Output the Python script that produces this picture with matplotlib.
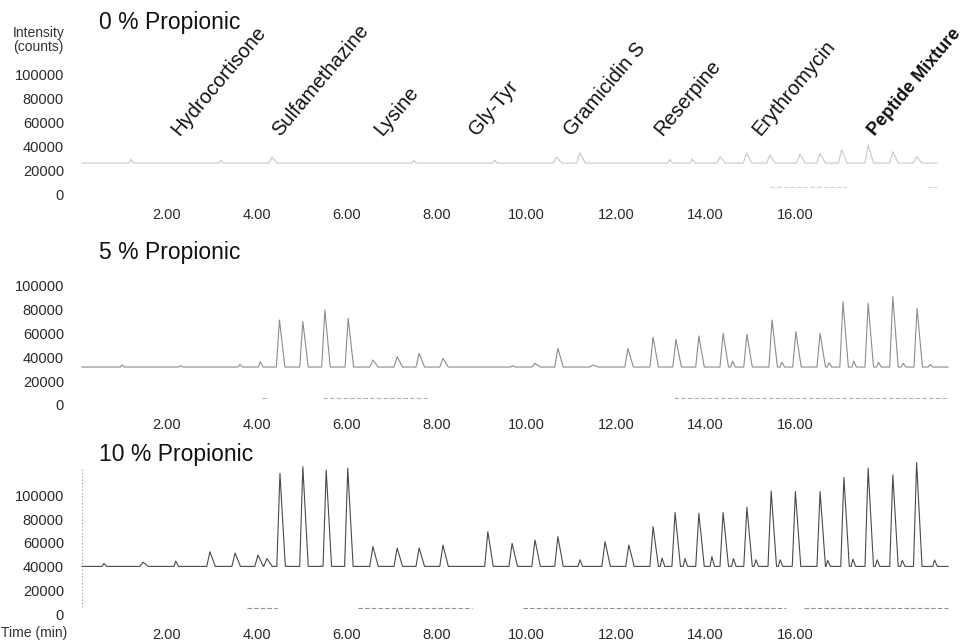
import matplotlib
matplotlib.use("Agg")
import matplotlib.pyplot as plt

plt.rcParams['font.family'] = ['Liberation Sans', 'DejaVu Sans']

# ---- data (time in min, intensity in counts) ----
titles = ["0 % Propionic", "5 % Propionic", "10 % Propionic"]
compounds = ["Hydrocortisone", "Sulfamethazine", "Lysine", "Gly-Tyr",
             "Gramicidin S", "Reserpine", "Erythromycin", "Peptide Mixture"]
compound_t = [2.27, 4.52, 6.8, 8.9, 11.02, 13.03, 15.21, 17.77]

xtick_vals = [2, 4, 6, 8, 10, 12, 14, 16]
xtick_labels = ["2.00", "4.00", "6.00", "8.00", "10.00", "12.00", "14.00", "16.00"]
ytick_vals = [0, 20000, 40000, 60000, 80000, 100000]
ytick_labels = ["0", "20000", "40000", "60000", "80000", "100000"]

# 0 % propionic
base_0 = 26000
peak_t_0 = [4.34, 10.68, 11.2, 14.32, 14.91, 15.43, 16.1, 16.55, 17.03, 17.62, 18.17, 18.7]
peak_h_0 = [31000, 31000, 34700, 31300, 34200, 32800, 33600, 34200, 37000, 41200, 35600, 31300]
bump_t_0 = [1.2, 3.2, 7.5, 9.3, 13.2, 13.7]
bump_h_0 = [29000, 28500, 28000, 28500, 29000, 29500]
span_0 = (0.11, 19.15)
dash_0 = [(15.43, 17.15), (18.93, 19.15)]

# 5 % propionic
base_5 = 31900
peak_t_5 = [4.51, 5.03, 5.52, 6.04, 6.59, 7.13, 7.62, 8.15, 10.2, 10.71, 11.49, 12.27,
            12.83, 13.34, 13.85, 14.39, 14.92, 15.48, 16.01, 16.55, 17.06, 17.62, 18.17, 18.71]
peak_h_5 = [71400, 70000, 79800, 72900, 37800, 40600, 43400, 39200, 35000, 47600, 33600, 47600,
            56900, 55200, 58000, 60200, 59400, 71400, 61600, 60200, 86800, 85400, 91000, 81200]
bump_t_5 = [1.0, 2.3, 3.63, 4.08, 9.7, 14.6, 15.7, 16.75, 17.3, 17.85, 18.4, 19.0]
bump_h_5 = [33500, 33000, 34000, 36400, 33000, 37000, 36000, 35500, 37000, 36000, 35000, 34000]
span_5 = (0.11, 19.4)
dash_5 = [(4.12, 4.23), (5.48, 7.8), (13.3, 14.8), (14.8, 19.4)]

# 10 % propionic
base_10 = 40500
peak_t_10 = [1.47, 2.96, 3.52, 4.03, 4.23, 4.52, 5.03, 5.55, 6.03, 6.59, 7.13, 7.62, 8.15,
             9.15, 9.69, 10.2, 10.71, 11.76, 12.29, 12.83, 13.32, 13.85, 14.39, 14.92,
             15.46, 16.0, 16.55, 17.08, 17.62, 18.17, 18.7]
peak_h_10 = [44000, 52700, 51600, 50000, 47000, 118000, 123600, 120800, 122250, 57000, 55800,
             55800, 58300, 69400, 59700, 62500, 65300, 61100, 58300, 73600, 85300, 84700,
             85300, 89700, 103300, 102800, 102800, 114700, 122250, 116700, 127000]
bump_t_10 = [0.6, 2.2, 11.2, 13.03, 13.54, 14.14, 14.62, 15.12, 15.66, 16.72, 17.28, 17.82, 18.38, 19.1]
bump_h_10 = [43000, 45000, 46000, 47500, 47000, 48600, 47000, 46000, 46000, 45500, 46500, 46000, 45500, 45800]
span_10 = (0.11, 19.4)
dash_10 = [(3.79, 4.45), (6.26, 8.8), (9.93, 14.4), (14.4, 15.8), (16.2, 19.4)]

# ---- layout (pixels of the 966x643 scan) ----
W, H = 966, 643
X0_PX, PX_PER_MIN, T_MAX = 77, 44.9, 19.6


def build_trace(base, peak_t, peak_h, bump_t, bump_h, span):
    pts = [(span[0], base), (span[1], base)]
    for t, h in zip(peak_t, peak_h):
        pts += [(t - 0.07, base), (t, h), (t + 0.12, base)]
    for t, h in zip(bump_t, bump_h):
        pts += [(t - 0.04, base), (t, h), (t + 0.06, base)]
    pts.sort()
    return [p[0] for p in pts], [p[1] for p in pts]


fig = plt.figure(figsize=(W / 100, H / 100), dpi=100)

panels = [
    # zero line px, px per 1000 counts, ylim, x label centre px, title baseline px
    dict(zero=194, k=1.19, ylim=(-8000, 112000), xlab=213, tbase=29,
         data=(base_0, peak_t_0, peak_h_0, bump_t_0, bump_h_0, span_0), dash=dash_0,
         color='#c8c8c8', dcolor='#d0d0d0'),
    dict(zero=405, k=1.19, ylim=(-8000, 112000), xlab=423, tbase=259,
         data=(base_5, peak_t_5, peak_h_5, bump_t_5, bump_h_5, span_5), dash=dash_5,
         color='#8c8c8c', dcolor='#b0b0b0'),
    dict(zero=615, k=1.2, ylim=(-6000, 132000), xlab=633, tbase=461,
         data=(base_10, peak_t_10, peak_h_10, bump_t_10, bump_h_10, span_10), dash=dash_10,
         color='#4a4a4a', dcolor='#909090'),
]

axes = []
for i, p in enumerate(panels):
    bottom = p['zero'] + (-p['ylim'][0]) / 1000 * p['k']
    top = p['zero'] - p['ylim'][1] / 1000 * p['k']
    width = T_MAX * PX_PER_MIN
    ax = fig.add_axes([X0_PX / W, 1 - bottom / H, width / W, (bottom - top) / H])
    ax.set_xlim(0, T_MAX)
    ax.set_ylim(*p['ylim'])
    for s in ax.spines.values():
        s.set_visible(False)

    xs, ys = build_trace(*p['data'])
    ax.plot(xs, ys, color=p['color'], lw=0.8)
    for a, b in p['dash']:
        ax.hlines(5900, a, b, colors=p['dcolor'], linestyles=(0, (4, 2)), lw=0.8)

    ax.set_yticks(ytick_vals)
    ax.set_yticklabels(ytick_labels)
    ax.set_xticks(xtick_vals)
    ax.set_xticklabels(xtick_labels)
    xpad = (p['xlab'] - 5.3 - bottom) * 0.72
    ax.tick_params(axis='x', length=0, pad=xpad, labelsize=10.5, labelcolor='#2a2a2a')
    ax.tick_params(axis='y', length=0, pad=9.4, labelsize=10.5, labelcolor='#2a2a2a')

    fig.text(99 / W, 1 - p['tbase'] / H, titles[i], fontsize=16.5, va='baseline', color='#111111')
    axes.append(ax)

# dotted intensity axis of the bottom trace
axes[2].vlines(0.11, 6700, 123000, colors='#999999', linestyles=(0, (1, 2)), lw=0.8)

# compound names over the top trace
for name, t in zip(compounds, compound_t):
    bold = name == "Peptide Mixture"
    axes[0].text(t, 48000, name, rotation=50, rotation_mode='anchor', ha='left', va='baseline',
                 fontsize=13 if bold else 14.5, color='#111111', clip_on=False,
                 fontweight='bold' if bold else 'normal')

fig.text(13 / W, 1 - 33 / H, "Intensity", fontsize=10, va='center', color='#333333')
fig.text(13 / W, 1 - 47 / H, "(counts)", fontsize=10, va='center', color='#333333')
fig.text(1 / W, 1 - 633 / H, "Time (min)", fontsize=10, va='center', color='#333333')

fig.savefig("out.png", dpi=100)
